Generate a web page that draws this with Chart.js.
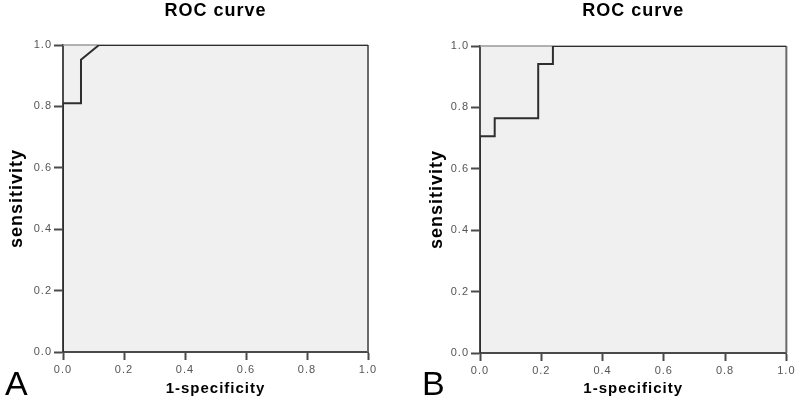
<!DOCTYPE html>
<html>
<head>
<meta charset="utf-8">
<script src="https://cdn.jsdelivr.net/npm/chart.js@4"></script>
<style>
  html, body { margin: 0; padding: 0; background: #ffffff; }
  #wrap { position: relative; width: 797px; height: 403px; overflow: hidden; }
  .panel { position: absolute; top: 0; }
</style>
</head>
<body>
<div id="wrap">
  <div class="panel" style="left:0px"><canvas id="cA" width="398" height="403"></canvas></div>
  <div class="panel" style="left:400px"><canvas id="cB" width="397" height="403"></canvas></div>
</div>
<script>
// ---- data ----
const panelTitles = ['ROC curve', 'ROC curve'];
const panelLetters = ['A', 'B'];
const xAxisTitle = '1-specificity';
const yAxisTitle = 'sensitivity';
const tickLabels = ['0.0', '0.2', '0.4', '0.6', '0.8', '1.0'];

// Panel A ROC curve (1-specificity, sensitivity)
const fprA = [0, 0, 0.059, 0.059, 0.118, 1];
const tprA = [0, 0.81, 0.81, 0.952, 1, 1];

// Panel B ROC curve
const fprB = [0, 0, 0.048, 0.048, 0.19, 0.19, 0.238, 0.238, 1];
const tprB = [0, 0.706, 0.706, 0.765, 0.765, 0.941, 0.941, 1, 1];

// ---- rendering ----
const FILL = '#f0f0f0';
const AXIS = '#4a4a4a';
const CURVE = '#2e2e2e';
const TICKTXT = '#555555';

const framePlugin = {
  id: 'frame',
  beforeDraw(chart) {
    const { ctx, chartArea: a } = chart;
    ctx.save();
    ctx.fillStyle = FILL;
    ctx.fillRect(a.left, a.top, a.right - a.left, a.bottom - a.top);
    ctx.restore();
    ctx.letterSpacing = '1px';
  },
  beforeDatasetsDraw(chart) {
    const { ctx, chartArea: a } = chart;
    ctx.save();
    ctx.strokeStyle = '#9a9a9a';
    ctx.lineWidth = 1.5;
    ctx.beginPath();
    ctx.moveTo(a.left, a.top);
    ctx.lineTo(a.right, a.top);
    ctx.stroke();
    ctx.strokeStyle = '#6a6a6a';
    ctx.lineWidth = 2;
    ctx.beginPath();
    ctx.moveTo(a.right, a.top);
    ctx.lineTo(a.right, a.bottom);
    ctx.stroke();
    ctx.restore();
  },
  afterDraw(chart, args, opts) {
    const { ctx } = chart;
    ctx.save();
    ctx.letterSpacing = '0px';
    ctx.fillStyle = '#000000';
    ctx.font = '34px "Liberation Sans", Arial, sans-serif';
    ctx.textBaseline = 'alphabetic';
    ctx.textAlign = 'left';
    ctx.fillText(opts.letter, opts.letterX, 395);
    ctx.restore();
    ctx.letterSpacing = '0px';
  }
};

function makeChart(id, fpr, tpr, o) {
  const pts = fpr.map((x, i) => ({ x: x, y: tpr[i] }));
  return new Chart(document.getElementById(id), {
    type: 'scatter',
    data: {
      datasets: [{
        data: pts,
        showLine: true,
        borderColor: CURVE,
        borderWidth: 2,
        pointRadius: 0,
        pointHoverRadius: 0,
        fill: false,
        tension: 0
      }]
    },
    options: {
      responsive: false,
      animation: false,
      events: [],
      layout: { padding: { left: o.padLeft, right: o.padRight, top: 0, bottom: 0 } },
      plugins: {
        legend: { display: false },
        tooltip: { enabled: false },
        title: {
          display: true,
          text: o.title,
          fullSize: false,
          color: '#000000',
          font: { family: '"Liberation Sans", Arial, sans-serif', size: 18, weight: 'bold' },
          padding: { top: 0, bottom: o.titleBottom }
        },
        frame: { letter: o.letter, letterX: o.letterX }
      },
      scales: {
        x: {
          type: 'linear',
          min: 0, max: 1,
          afterFit(s) { s.height = o.xHeight; },
          border: { display: true, color: AXIS, width: 2 },
          grid: { drawOnChartArea: false, drawTicks: true, tickLength: 8, tickColor: AXIS, tickWidth: 2 },
          ticks: {
            stepSize: 0.2,
            padding: 3,
            color: TICKTXT,
            maxRotation: 0,
            font: { family: '"Liberation Sans", Arial, sans-serif', size: 11 },
            callback: (v) => tickLabels[Math.round(v * 5)]
          },
          title: {
            display: true,
            text: xAxisTitle,
            color: '#000000',
            font: { family: '"Liberation Sans", Arial, sans-serif', size: 15, weight: 'bold' },
            padding: { top: 5, bottom: 5 }
          }
        },
        y: {
          type: 'linear',
          min: 0, max: 1,
          afterFit(s) { s.width = o.yWidth; },
          border: { display: true, color: AXIS, width: 2 },
          grid: { drawOnChartArea: false, drawTicks: true, tickLength: 9, tickColor: AXIS, tickWidth: 2 },
          ticks: {
            stepSize: 0.2,
            padding: 2,
            color: TICKTXT,
            font: { family: '"Liberation Sans", Arial, sans-serif', size: 11 },
            callback: (v) => tickLabels[Math.round(v * 5)]
          },
          title: {
            display: true,
            text: yAxisTitle,
            color: '#000000',
            font: { family: '"Liberation Sans", Arial, sans-serif', size: 18, weight: 'bold' },
            padding: { top: 6, bottom: 6 }
          }
        }
      }
    },
    plugins: [framePlugin]
  });
}

makeChart('cA', fprA, tprA, {
  title: panelTitles[0], letter: panelLetters[0], letterX: 5,
  padLeft: 0, padRight: 30, yWidth: 63, xHeight: 51, titleBottom: 23.4
});
makeChart('cB', fprB, tprB, {
  title: panelTitles[1], letter: panelLetters[1], letterX: 22,
  padLeft: 20, padRight: 9, yWidth: 60, xHeight: 50, titleBottom: 24.4
});
</script>
</body>
</html>
